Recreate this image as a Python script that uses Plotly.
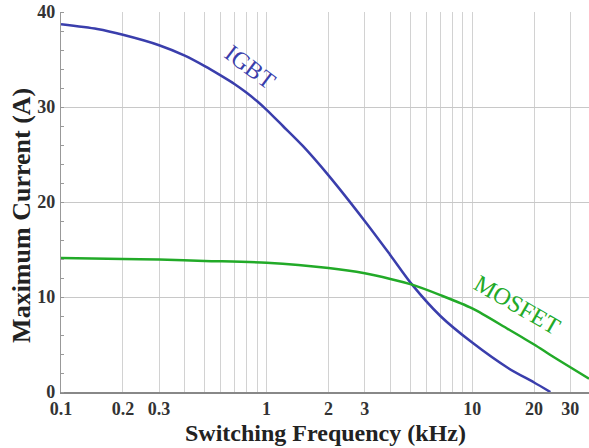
import math
import plotly.graph_objects as go

igbt_f = [0.1, 0.15, 0.2, 0.3, 0.4, 0.5, 0.6, 0.7, 0.8, 0.9, 1.0, 1.2, 1.5, 2.0, 3.0, 4.0, 5.1, 7.0, 10.0, 15.0, 20.0, 24.0]
igbt_i = [38.7, 38.2, 37.6, 36.5, 35.4, 34.3, 33.3, 32.4, 31.5, 30.6, 29.7, 28.0, 25.9, 22.8, 18.0, 14.4, 11.3, 8.0, 5.2, 2.5, 1.0, 0.0]

mosfet_f = [0.1, 0.2, 0.3, 0.5, 1.0, 2.0, 3.0, 4.0, 5.1, 7.0, 10.0, 15.0, 20.0, 24.0, 30.0, 37.0]
mosfet_i = [14.1, 14.0, 13.95, 13.8, 13.6, 13.05, 12.5, 11.9, 11.3, 10.2, 8.8, 6.6, 5.0, 3.9, 2.6, 1.4]

x_ticks = [0.1, 0.2, 0.3, 1, 2, 3, 10, 20, 30]
x_ticktext = ["0.1", "0.2", "0.3", "1", "2", "3", "10", "20", "30"]
x_grid = [0.4, 0.5, 0.6, 0.7, 0.8, 0.9, 4, 5, 6, 7, 8, 9]
y_ticks = [0, 10, 20, 30, 40]

blue = "rgb(58,62,172)"
green = "rgb(34,170,40)"
serif = "Liberation Serif, Times New Roman, serif"

fig = go.Figure()
fig.add_trace(go.Scatter(x=igbt_f, y=igbt_i, mode="lines", line=dict(color=blue, width=2.5, shape="spline", smoothing=0.8), name="IGBT"))
fig.add_trace(go.Scatter(x=mosfet_f, y=mosfet_i, mode="lines", line=dict(color=green, width=2.5, shape="spline", smoothing=0.8), name="MOSFET"))

fig.add_annotation(x=math.log10(0.83), y=34.2, text="IGBT", showarrow=False, textangle=37,
                   font=dict(family=serif, size=24, color=blue))
fig.add_annotation(x=math.log10(16.6), y=9.2, text="MOSFET", showarrow=False, textangle=30,
                   font=dict(family=serif, size=24, color=green))

fig.add_annotation(xref="paper", yref="paper", x=0.5, y=-0.109, xanchor="center", yanchor="middle",
                   text="<b>Switching Frequency (kHz)</b>", showarrow=False,
                   font=dict(family=serif, size=24, color="#222"))
fig.add_annotation(xref="paper", yref="paper", x=-0.0739, y=0.466, xanchor="center", yanchor="middle",
                   text="<b>Maximum Current (A)</b>", showarrow=False, textangle=-90,
                   font=dict(family=serif, size=26, color="#222"))

fig.update_layout(
    width=589, height=448,
    margin=dict(l=61, r=0, t=12, b=56),
    paper_bgcolor="white", plot_bgcolor="white",
    showlegend=False,
    font=dict(family=serif, color="#333"),
)
fig.update_xaxes(
    type="log", range=[-1, 1.568],
    tickvals=x_ticks, ticktext=x_ticktext,
    tickfont=dict(family=serif, size=18, color="#333", weight="bold"),
    showgrid=True, gridcolor="#d2d2d2", gridwidth=1.3,
    minor=dict(tickvals=x_grid, showgrid=True, gridcolor="#d2d2d2", gridwidth=1.3, ticks=""),
    showline=True, linecolor="#888", linewidth=1.5,
    ticks="", ticklabelstandoff=0,
    zeroline=False,
)
fig.update_yaxes(
    range=[0, 40], tickvals=y_ticks,
    tickfont=dict(family=serif, size=18, color="#333", weight="bold"),
    showgrid=True, gridcolor="#c8c8c8", gridwidth=1.3,
    showline=True, linecolor="#999", linewidth=1.2,
    ticks="", ticklabelstandoff=1,
    minor=dict(dtick=2, ticks="inside", ticklen=3, tickcolor="#999", showgrid=False),
    zeroline=False,
)

fig.write_html("out.html")
